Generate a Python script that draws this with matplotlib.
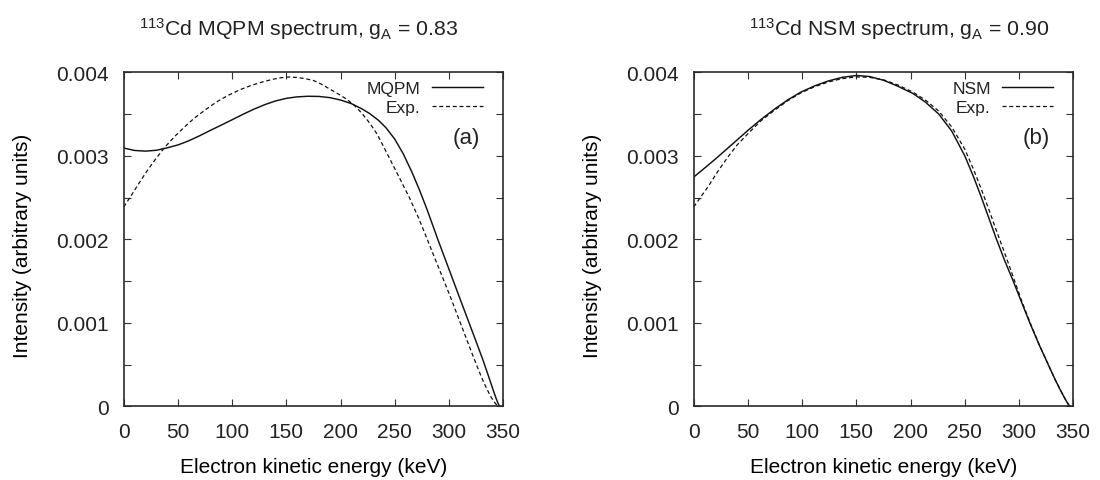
import matplotlib
matplotlib.use("Agg")
import matplotlib.pyplot as plt
from matplotlib.ticker import FuncFormatter

plt.rcParams['font.family'] = ['Liberation Sans', 'DejaVu Sans']
plt.rcParams['mathtext.fontset'] = 'custom'
plt.rcParams['mathtext.rm'] = 'Liberation Sans'
plt.rcParams['mathtext.it'] = 'Liberation Sans:italic'
plt.rcParams['text.color'] = '#222222'

# values, intensity in units of 1e-3
mqpm_E = [0, 10, 20, 30, 40, 50, 60, 70, 80, 90, 100, 110, 120, 130, 140, 150,
          160, 170, 180, 190, 200, 210, 220, 227, 235, 242, 250, 258, 266, 273,
          280, 285, 289.7, 297, 304, 311, 319, 325, 331.5, 336, 339.5, 342, 344,
          345.5, 346.5, 347]
mqpm_I = [3.093, 3.064, 3.056, 3.066, 3.095, 3.13, 3.18, 3.24, 3.305, 3.368,
          3.432, 3.497, 3.558, 3.612, 3.657, 3.688, 3.706, 3.713, 3.711, 3.697,
          3.668, 3.625, 3.56, 3.505, 3.425, 3.335, 3.20, 3.02, 2.80, 2.585,
          2.35, 2.17, 2.0, 1.747, 1.504, 1.26, 0.985, 0.778, 0.55, 0.38, 0.245,
          0.15, 0.078, 0.03, 0.007, 0.0]

expA_E = [0, 7, 14, 21, 29, 38, 47, 56, 65, 75, 85, 96, 107, 118, 128, 138, 145,
          152, 160, 167, 175, 182, 190, 198, 206, 213, 220, 227, 234, 244, 254,
          263.5, 272, 280, 288, 295.5, 303, 310.5, 318, 325, 330, 334, 338, 341,
          343.5, 345.5, 346.5]
expA_I = [2.387, 2.527, 2.67, 2.81, 2.955, 3.105, 3.232, 3.345, 3.45, 3.548,
          3.64, 3.722, 3.79, 3.845, 3.885, 3.918, 3.935, 3.944, 3.938, 3.925,
          3.902, 3.86, 3.80, 3.74, 3.675, 3.60, 3.505, 3.39, 3.255, 3.0, 2.745,
          2.5, 2.255, 2.0, 1.74, 1.5, 1.255, 1.0, 0.745, 0.51, 0.35, 0.235,
          0.13, 0.065, 0.025, 0.005, 0.0]

nsm_E = [0, 10, 20, 31.5, 40, 50, 62, 75, 87, 99, 112, 124, 137, 150, 162, 175,
         188, 202.5, 214, 226, 238, 250, 258, 265, 272, 279, 287, 294.7, 302,
         310, 318.5, 327, 333, 338, 341.5, 344, 346, 347]
nsm_I = [2.746, 2.853, 2.962, 3.093, 3.19, 3.305, 3.435, 3.564, 3.672, 3.764,
         3.84, 3.896, 3.94, 3.962, 3.95, 3.905, 3.835, 3.744, 3.64, 3.5, 3.296,
         3.0, 2.752, 2.514, 2.262, 2.01, 1.74, 1.5, 1.26, 1.0, 0.74, 0.5, 0.33,
         0.2, 0.115, 0.055, 0.015, 0.0]

expB_E = [0, 6, 13, 22, 31.5, 40, 50, 62, 75, 87, 99, 112, 124, 137, 150, 162,
          175, 188, 202.5, 214, 226, 238, 250, 258, 265, 272, 279, 287, 294.7,
          302, 310, 318.5, 327, 333, 338, 341.5, 344, 346, 347]
expB_I = [2.387, 2.50, 2.626, 2.81, 2.986, 3.13, 3.265, 3.42, 3.55, 3.662, 3.755,
          3.83, 3.883, 3.925, 3.944, 3.94, 3.91, 3.85, 3.76, 3.665, 3.535, 3.345,
          3.08, 2.84, 2.61, 2.365, 2.11, 1.83, 1.55, 1.28, 1.01, 0.745, 0.5,
          0.33, 0.2, 0.115, 0.055, 0.015, 0.0]

xticks = [0, 50, 100, 150, 200, 250, 300, 350]
yticks = [0, 0.001, 0.002, 0.003, 0.004]
yminor = [0.0005, 0.0015, 0.0025, 0.0035]

panels = [
    (mqpm_E, mqpm_I, 'MQPM', expA_E, expA_I, '(a)',
     r'$^{113}$Cd MQPM spectrum, g$_{\rm A}$ = 0.83'),
    (nsm_E, nsm_I, 'NSM', expB_E, expB_I, '(b)',
     r'$^{113}$Cd NSM spectrum, g$_{\rm A}$ = 0.90'),
]

fig = plt.figure(figsize=(11, 4.81), dpi=100)
lefts = [0.1125, 0.6307]
title_x = [0.2714, 0.8173]

for i, (tE, tI, tname, eE, eI, tag, title) in enumerate(panels):
    ax = fig.add_axes([lefts[i], 0.1532, 0.3449, 0.6944])
    ax.plot(tE, [v * 1e-3 for v in tI], color='#111111', lw=1.05, label=tname)
    ax.plot(eE, [v * 1e-3 for v in eI], color='#111111', lw=0.9,
            linestyle=(0, (3.2, 2.2)), label='Exp.')
    ax.set_xlim(0, 350)
    ax.set_ylim(0, 0.004)
    ax.set_xticks(xticks)
    ax.set_yticks(yticks)
    ax.set_yticks(yminor, minor=True)
    ax.yaxis.set_major_formatter(FuncFormatter(lambda v, p: '%g' % round(v, 4)))
    ax.tick_params(which='both', direction='in', top=True, right=True,
                   length=5, width=0.8, color='#333333', labelsize=15,
                   labelcolor='#222222', pad=11)
    for s in ax.spines.values():
        s.set_linewidth(1.2)
        s.set_color('#2a2a2a')
    ax.set_xlabel('Electron kinetic energy (keV)', fontsize=15)
    ax.xaxis.set_label_coords(0.5, -0.179)
    ax.xaxis.label.set_va('center')
    ax.set_ylabel('Intensity (arbitrary units)', fontsize=15)
    ax.yaxis.set_label_coords(-0.266, 0.483)
    ax.yaxis.label.set_va('center')
    ax.legend(loc='upper right', bbox_to_anchor=(0.946, 0.974), frameon=False,
              markerfirst=False, fontsize=12.5, borderpad=0, borderaxespad=0,
              handlelength=2.9, handletextpad=0.67, labelspacing=0.24)
    ax.text(0.939, 0.806, tag, transform=ax.transAxes, ha='right', va='center',
            fontsize=16)
    fig.text(title_x[i], 0.925, title, ha='center', va='baseline', fontsize=15.3)

fig.savefig('out.png', dpi=100)
